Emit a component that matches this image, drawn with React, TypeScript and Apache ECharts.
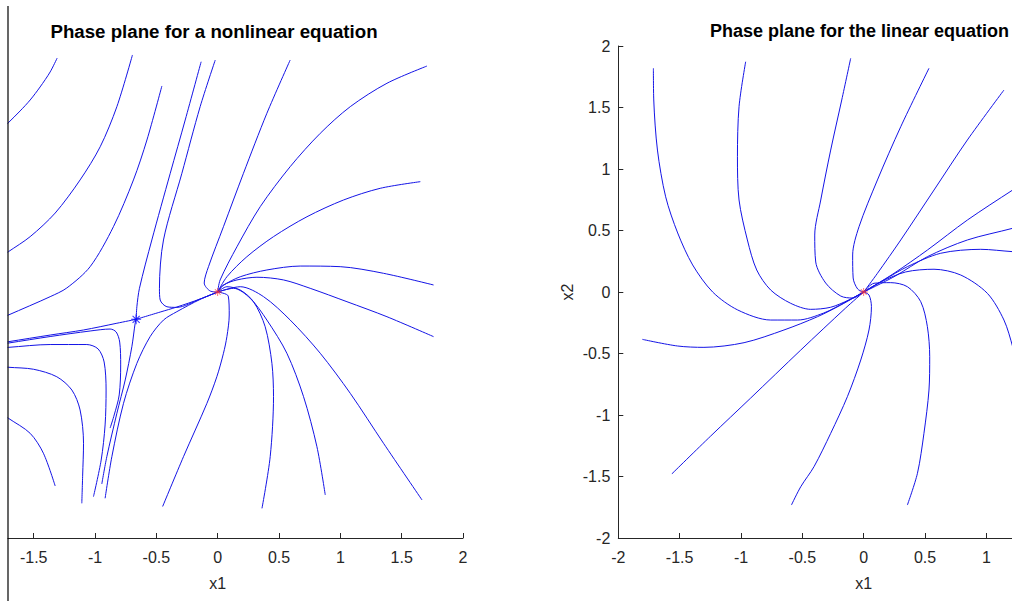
import React, { useEffect, useRef } from 'react';
import * as echarts from 'echarts';

// ---------- data (phase-plane trajectories) ----------
const saddle: [number, number][] = [[-0.665, -0.222]];
const origin: [number, number][] = [[0, 0]];

const L1 = [[-1.78,1.303],[-1.709,1.374],[-1.611,1.472],[-1.529,1.561],[-1.448,1.667],[-1.366,1.789],[-1.309,1.902]];
const L2 = [[-1.78,0.277],[-1.706,0.328],[-1.529,0.450],[-1.325,0.642],[-1.122,0.911],[-0.958,1.181],[-0.822,1.507],[-0.695,1.927]];
const L3 = [[-0.455,1.675],[-0.577,1.236],[-0.687,0.911],[-0.850,0.531],[-1.040,0.206],[-1.230,0.033],[-1.366,-0.038],[-1.706,-0.187],[-1.78,-0.219]];
const L4 = [[-0.135,1.872],[-0.265,1.398],[-0.387,0.965],[-0.537,0.423],[-0.638,0.030],[-0.659,-0.120],[-0.665,-0.222]];
const L5 = [[-0.020,1.886],[-0.143,1.507],[-0.292,0.965],[-0.442,0.423],[-0.475,0.030],[-0.469,-0.065],[-0.414,-0.120],[-0.333,-0.125],[-0.143,-0.057],[0,0]];
const L6 = [[0.591,1.886],[0.401,1.453],[0.210,0.965],[0.047,0.531],[-0.075,0.206],[-0.110,0.073],[-0.061,0.008],[0,0]];
const L7 = [[1.706,1.837],[1.380,1.697],[1.081,1.507],[0.836,1.290],[0.591,1.019],[0.347,0.694],[0.157,0.368],[0.020,0.098],[0,0]];
const L8 = [[1.652,0.897],[1.325,0.843],[1.026,0.748],[0.728,0.612],[0.455,0.450],[0.238,0.287],[0.075,0.124],[0,0]];
const L9 = [[1.760,0.057],[1.352,0.152],[0.999,0.206],[0.673,0.211],[0.401,0.179],[0.184,0.124],[0.040,0.050],[0,0]];
const L10 = [[1.760,-0.363],[1.380,-0.201],[1.054,-0.079],[0.754,0.030],[0.537,0.098],[0.320,0.120],[0.157,0.098],[0.047,0.057],[0,0]];
const L11 = [[0,0],[0.075,0.043],[0.184,0.016],[0.292,-0.079],[0.387,-0.282],[0.442,-0.580],[0.455,-0.851],[0.428,-1.339],[0.361,-1.759]];
const L12 = [[0,0],[0.129,0.030],[0.265,-0.051],[0.401,-0.228],[0.564,-0.498],[0.700,-0.851],[0.809,-1.258],[0.877,-1.650]];
const L13 = [[0,0],[0.184,0.043],[0.374,-0.038],[0.591,-0.228],[0.836,-0.498],[1.081,-0.824],[1.352,-1.230],[1.666,-1.691]];
const L14 = [[0,0],[0.086,-0.033],[0.094,-0.187],[0.075,-0.363],[0.047,-0.498],[-0.007,-0.689],[-0.088,-0.905],[-0.279,-1.339],[-0.449,-1.744]];
const M1 = [[-0.665,-0.222],[-0.469,-0.163],[-0.333,-0.122],[-0.143,-0.057],[0,0]];
const A1 = [[-1.78,-0.416],[-1.706,-0.404],[-1.366,-0.350],[-1.095,-0.309],[-0.822,-0.254],[-0.665,-0.222]];
const B1 = [[-1.78,-0.427],[-1.706,-0.415],[-1.366,-0.362],[-1.040,-0.317],[-0.877,-0.301],[-0.828,-0.325],[-0.799,-0.407],[-0.791,-0.593],[-0.803,-0.837],[-0.844,-1.000],[-0.877,-1.106]];
const C1 = [[-1.78,-0.455],[-1.706,-0.450],[-1.366,-0.427],[-1.067,-0.427],[-0.975,-0.463],[-0.926,-0.569],[-0.910,-0.797],[-0.918,-1.081],[-0.950,-1.366],[-1.013,-1.664]];
const C2 = [[-1.78,-0.606],[-1.706,-0.612],[-1.502,-0.628],[-1.312,-0.689],[-1.189,-0.797],[-1.122,-0.959],[-1.094,-1.230],[-1.101,-1.488],[-1.108,-1.718]];
const C3 = [[-1.78,-0.976],[-1.706,-1.027],[-1.529,-1.149],[-1.421,-1.311],[-1.325,-1.577]];
const D1 = [[-0.665,-0.222],[-0.673,-0.254],[-0.700,-0.445],[-0.754,-0.715],[-0.822,-0.986],[-0.904,-1.339],[-0.945,-1.561]];
const D2 = [[-0.918,-1.677],[-0.863,-1.339],[-0.768,-0.905],[-0.659,-0.580],[-0.551,-0.363],[-0.442,-0.228],[-0.333,-0.160],[-0.143,-0.060],[0,0]];

const R1 = [[-1.714,1.819],[-1.711,1.561],[-1.681,1.154],[-1.614,0.774],[-1.516,0.480],[-1.394,0.220],[-1.231,0],[-1.027,-0.146],[-0.758,-0.228],[-0.538,-0.228],[-0.326,-0.171],[-0.147,-0.081],[0,0]];
const R2 = [[-0.962,1.872],[-1.016,1.507],[-1.029,1.100],[-1.016,0.748],[-0.948,0.423],[-0.872,0.179],[-0.758,0.016],[-0.595,-0.092],[-0.432,-0.141],[-0.269,-0.124],[-0.122,-0.065],[0,0]];
const R3 = [[-0.106,1.900],[-0.179,1.561],[-0.269,1.154],[-0.350,0.748],[-0.399,0.463],[-0.391,0.244],[-0.310,0.073],[-0.187,-0.033],[-0.090,-0.049],[0,0]];
const R4 = [[0.532,1.819],[0.302,1.344],[0.112,0.911],[-0.038,0.531],[-0.090,0.301],[-0.086,0.114],[-0.049,0.024],[0,0]];
const R5 = [[1.143,1.642],[0.845,1.236],[0.573,0.829],[0.302,0.423],[0.112,0.152],[0,0]];
const R6 = [[1.443,0.976],[1.214,0.829],[0.845,0.585],[0.519,0.341],[0.247,0.152],[0,0]];
const R7 = [[1.443,0.585],[1.214,0.518],[0.845,0.423],[0.519,0.287],[0.247,0.124],[0,0]];
const R8 = [[1.443,0.317],[1.214,0.328],[0.954,0.347],[0.628,0.315],[0.356,0.206],[0.165,0.098],[0,0]];
const R9 = [[0,0],[0.139,0.081],[0.342,0.163],[0.573,0.185],[0.791,0.138],[1.008,-0.011],[1.143,-0.228],[1.214,-0.445],[1.280,-0.715]];
const R10 = [[0,0],[0.084,0.071],[0.220,0.076],[0.356,0.043],[0.465,-0.079],[0.519,-0.282],[0.538,-0.526],[0.532,-0.797],[0.491,-1.149],[0.438,-1.474],[0.356,-1.732]];
const R11 = [[0,0],[0.043,-0.024],[0.063,-0.119],[0.043,-0.309],[-0.024,-0.553],[-0.133,-0.851],[-0.269,-1.149],[-0.405,-1.420],[-0.513,-1.583],[-0.589,-1.732]];
const R12 = [[0,0],[-0.147,-0.130],[-0.513,-0.472],[-0.921,-0.862],[-1.247,-1.171],[-1.565,-1.480]];
const R13 = [[-1.804,-0.385],[-1.518,-0.439],[-1.302,-0.450],[-0.975,-0.412],[-0.650,-0.309],[-0.377,-0.201],[-0.187,-0.106],[0,0]];

const leftCurves = [L1, L2, L3, L4, L5, L6, L7, L8, L9, L10, L11, L12, L13, L14, M1, A1, B1, C1, C2, C3, D1, D2];
const rightCurves = [R1, R2, R3, R4, R5, R6, R7, R8, R9, R10, R11, R12, R13];

const leftTitle = 'Phase plane for a nonlinear equation';
const rightTitle = 'Phase plane for the linear equation';
const xName = 'x1';
const yName = 'x2';
// tick labels that fall outside the visible (cropped) picture
const leftHiddenTicks = [-2];
const rightHiddenTicks = [1.5, 2];

// ---------- styling ----------
const FONT = '"Liberation Sans", Arial, Helvetica, sans-serif';
const AXIS = '#262626';
const LINE = '#1414e6';
const STAR =
  'path://M-5,-0.5L5,-0.5L5,0.5L-5,0.5Z M-0.5,-5L0.5,-5L0.5,5L-0.5,5Z ' +
  'M3.89,3.18L3.18,3.89L-3.89,-3.18L-3.18,-3.89Z M3.89,-3.18L-3.18,3.89L-3.89,3.18L3.18,-3.89Z';

function xAxisOf(i: number, hidden: number[]) {
  return {
    gridIndex: i,
    type: 'value',
    min: -2,
    max: 2,
    interval: 0.5,
    axisLine: { show: true, onZero: false, lineStyle: { color: AXIS, width: 1 } },
    axisTick: { show: true, inside: true, length: 5, lineStyle: { color: AXIS, width: 1 } },
    axisLabel: {
      color: AXIS, fontSize: 16, fontFamily: FONT, margin: 11,
      formatter: (v: number) => (hidden.some((h) => Math.abs(h - v) < 1e-9) ? '' : String(v)),
    },
    splitLine: { show: false },
    name: xName,
    nameLocation: 'middle',
    nameGap: 37,
    nameTextStyle: { color: AXIS, fontSize: 16, fontFamily: FONT },
  };
}

export default function App() {
  const ref = useRef<HTMLDivElement>(null);

  useEffect(() => {
    if (!ref.current) return;
    const chart = echarts.init(ref.current, undefined, { renderer: 'svg' });

    const lineSeries = (curves: number[][][], idx: number) =>
      curves.map((c) => ({
        type: 'line',
        xAxisIndex: idx,
        yAxisIndex: idx,
        data: c,
        showSymbol: false,
        symbol: 'none',
        smooth: 0.3,
        clip: true,
        silent: true,
        lineStyle: { color: LINE, width: 1 },
        z: 2,
      }));

    chart.setOption({
      animation: false,
      backgroundColor: '#ffffff',
      grid: [
        { left: -27.6, top: 46, width: 490.6, height: 492, containLabel: false, outerBoundsMode: 'none' },
        { left: 618.3, top: 46, width: 490.8, height: 492, containLabel: false, outerBoundsMode: 'none' },
      ],
      xAxis: [xAxisOf(0, leftHiddenTicks), xAxisOf(1, rightHiddenTicks)],
      yAxis: [
        { gridIndex: 0, type: 'value', min: -2, max: 2, interval: 0.5, show: false },
        {
          gridIndex: 1,
          type: 'value',
          min: -2,
          max: 2,
          interval: 0.5,
          axisLine: { show: true, onZero: false, lineStyle: { color: AXIS, width: 1 } },
          axisTick: { show: true, inside: true, length: 5, lineStyle: { color: AXIS, width: 1 } },
          axisLabel: { color: AXIS, fontSize: 16, fontFamily: FONT, margin: 8 },
          splitLine: { show: false },
          name: yName,
          nameLocation: 'middle',
          nameGap: 43,
          nameRotate: 90,
          nameTextStyle: { color: AXIS, fontSize: 16, fontFamily: FONT },
        },
      ],
      series: [
        ...lineSeries(leftCurves, 0),
        ...lineSeries(rightCurves, 1),
        {
          type: 'scatter', xAxisIndex: 0, yAxisIndex: 0, data: saddle, symbol: STAR,
          symbolSize: 10, itemStyle: { color: '#0000ff' }, silent: true, z: 5,
        },
        {
          type: 'scatter', xAxisIndex: 0, yAxisIndex: 0, data: origin, symbol: STAR,
          symbolSize: 8, itemStyle: { color: '#ff3030' }, silent: true, z: 5,
        },
        {
          type: 'scatter', xAxisIndex: 1, yAxisIndex: 1, data: origin, symbol: STAR,
          symbolSize: 8, itemStyle: { color: '#ff3030' }, silent: true, z: 5,
        },
      ],
      graphic: [
        { type: 'rect', shape: { x: 0, y: 0, width: 7.5, height: 601 }, style: { fill: '#ffffff' }, z: 100, silent: true },
        { type: 'line', shape: { x1: 8, y1: 6, x2: 8, y2: 601 }, style: { stroke: '#000000', lineWidth: 1.2 }, z: 101, silent: true },
        {
          type: 'text', x: 214, y: 31, z: 101, silent: true,
          style: { text: leftTitle, fill: '#000000', font: `bold 18.7px ${FONT}`, textAlign: 'center', textVerticalAlign: 'middle' },
        },
        {
          type: 'text', x: 1009, y: 31, z: 101, silent: true,
          style: { text: rightTitle, fill: '#000000', font: `bold 18px ${FONT}`, textAlign: 'right', textVerticalAlign: 'middle' },
        },
      ],
    });

    return () => chart.dispose();
  }, []);

  return (
    <div style={{ position: 'fixed', left: 0, top: 0, width: 1012, height: 601, background: '#fff' }}>
      <div ref={ref} style={{ width: 1012, height: 601 }} />
    </div>
  );
}
